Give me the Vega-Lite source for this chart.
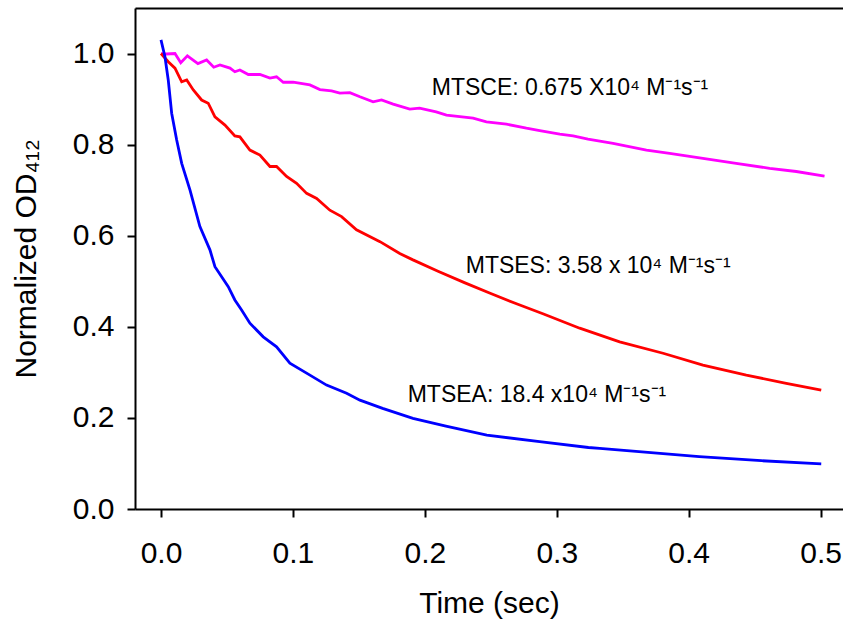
{
  "$schema": "https://vega.github.io/schema/vega-lite/v6.json",
  "width": 708,
  "height": 501,
  "autosize": "none",
  "padding": {"left": 135, "top": 8, "right": 0, "bottom": 111},
  "background": "white",
  "config": {
    "view": {"stroke": null},
    "font": "Liberation Sans",
    "axis": {
      "grid": false,
      "domainColor": "black",
      "domainWidth": 2,
      "tickColor": "black",
      "tickWidth": 2,
      "tickSize": 8,
      "labelFont": "Liberation Sans",
      "labelFontSize": 30,
      "labelColor": "black",
      "titleFont": "Liberation Sans",
      "titleFontSize": 30,
      "titleFontWeight": "normal",
      "titleColor": "black"
    }
  },
  "datasets": {
    "curves": [
      {"series": "MTSCE", "t": 0.0, "v": 1.0},
      {"series": "MTSCE", "t": 0.004, "v": 0.999},
      {"series": "MTSCE", "t": 0.0106, "v": 1.0},
      {"series": "MTSCE", "t": 0.015, "v": 0.98},
      {"series": "MTSCE", "t": 0.02, "v": 0.995},
      {"series": "MTSCE", "t": 0.028, "v": 0.978},
      {"series": "MTSCE", "t": 0.0346, "v": 0.986},
      {"series": "MTSCE", "t": 0.04, "v": 0.97},
      {"series": "MTSCE", "t": 0.0447, "v": 0.975},
      {"series": "MTSCE", "t": 0.0523, "v": 0.968},
      {"series": "MTSCE", "t": 0.056, "v": 0.96},
      {"series": "MTSCE", "t": 0.0598, "v": 0.964},
      {"series": "MTSCE", "t": 0.0662, "v": 0.954},
      {"series": "MTSCE", "t": 0.075, "v": 0.954},
      {"series": "MTSCE", "t": 0.0826, "v": 0.946},
      {"series": "MTSCE", "t": 0.0876, "v": 0.949},
      {"series": "MTSCE", "t": 0.0927, "v": 0.937},
      {"series": "MTSCE", "t": 0.1002, "v": 0.937},
      {"series": "MTSCE", "t": 0.1129, "v": 0.931},
      {"series": "MTSCE", "t": 0.1205, "v": 0.921},
      {"series": "MTSCE", "t": 0.1293, "v": 0.918},
      {"series": "MTSCE", "t": 0.1356, "v": 0.913},
      {"series": "MTSCE", "t": 0.1432, "v": 0.914},
      {"series": "MTSCE", "t": 0.1508, "v": 0.905},
      {"series": "MTSCE", "t": 0.1608, "v": 0.894},
      {"series": "MTSCE", "t": 0.1672, "v": 0.898},
      {"series": "MTSCE", "t": 0.176, "v": 0.889},
      {"series": "MTSCE", "t": 0.1886, "v": 0.878},
      {"series": "MTSCE", "t": 0.196, "v": 0.88},
      {"series": "MTSCE", "t": 0.2086, "v": 0.872},
      {"series": "MTSCE", "t": 0.2164, "v": 0.865},
      {"series": "MTSCE", "t": 0.2366, "v": 0.858},
      {"series": "MTSCE", "t": 0.2467, "v": 0.85},
      {"series": "MTSCE", "t": 0.2619, "v": 0.845},
      {"series": "MTSCE", "t": 0.277, "v": 0.836},
      {"series": "MTSCE", "t": 0.2871, "v": 0.831},
      {"series": "MTSCE", "t": 0.3023, "v": 0.823},
      {"series": "MTSCE", "t": 0.3124, "v": 0.819},
      {"series": "MTSCE", "t": 0.3237, "v": 0.812},
      {"series": "MTSCE", "t": 0.3427, "v": 0.803},
      {"series": "MTSCE", "t": 0.368, "v": 0.788},
      {"series": "MTSCE", "t": 0.3856, "v": 0.781},
      {"series": "MTSCE", "t": 0.4108, "v": 0.77},
      {"series": "MTSCE", "t": 0.436, "v": 0.759},
      {"series": "MTSCE", "t": 0.4614, "v": 0.748},
      {"series": "MTSCE", "t": 0.4816, "v": 0.741},
      {"series": "MTSCE", "t": 0.503, "v": 0.731},
      {"series": "MTSES", "t": 0.0, "v": 1.0},
      {"series": "MTSES", "t": 0.0055, "v": 0.982},
      {"series": "MTSES", "t": 0.0106, "v": 0.968},
      {"series": "MTSES", "t": 0.0157, "v": 0.938},
      {"series": "MTSES", "t": 0.0195, "v": 0.942},
      {"series": "MTSES", "t": 0.0245, "v": 0.92},
      {"series": "MTSES", "t": 0.0308, "v": 0.898},
      {"series": "MTSES", "t": 0.0358, "v": 0.891},
      {"series": "MTSES", "t": 0.0409, "v": 0.861},
      {"series": "MTSES", "t": 0.0485, "v": 0.843},
      {"series": "MTSES", "t": 0.056, "v": 0.819},
      {"series": "MTSES", "t": 0.0598, "v": 0.817},
      {"series": "MTSES", "t": 0.0674, "v": 0.788},
      {"series": "MTSES", "t": 0.075, "v": 0.777},
      {"series": "MTSES", "t": 0.0826, "v": 0.752},
      {"series": "MTSES", "t": 0.0876, "v": 0.752},
      {"series": "MTSES", "t": 0.0952, "v": 0.73},
      {"series": "MTSES", "t": 0.1028, "v": 0.715},
      {"series": "MTSES", "t": 0.1104, "v": 0.693},
      {"series": "MTSES", "t": 0.118, "v": 0.682},
      {"series": "MTSES", "t": 0.128, "v": 0.656},
      {"series": "MTSES", "t": 0.1369, "v": 0.642},
      {"series": "MTSES", "t": 0.1482, "v": 0.613},
      {"series": "MTSES", "t": 0.166, "v": 0.587},
      {"series": "MTSES", "t": 0.181, "v": 0.561},
      {"series": "MTSES", "t": 0.191, "v": 0.547},
      {"series": "MTSES", "t": 0.21, "v": 0.522},
      {"series": "MTSES", "t": 0.23, "v": 0.497},
      {"series": "MTSES", "t": 0.25, "v": 0.473},
      {"series": "MTSES", "t": 0.27, "v": 0.45},
      {"series": "MTSES", "t": 0.29, "v": 0.428},
      {"series": "MTSES", "t": 0.3174, "v": 0.397},
      {"series": "MTSES", "t": 0.3477, "v": 0.367},
      {"series": "MTSES", "t": 0.3806, "v": 0.342},
      {"series": "MTSES", "t": 0.4108, "v": 0.316},
      {"series": "MTSES", "t": 0.4437, "v": 0.294},
      {"series": "MTSES", "t": 0.474, "v": 0.276},
      {"series": "MTSES", "t": 0.5005, "v": 0.261},
      {"series": "MTSEA", "t": 0.0, "v": 1.03},
      {"series": "MTSEA", "t": 0.003, "v": 0.993},
      {"series": "MTSEA", "t": 0.0055, "v": 0.942},
      {"series": "MTSEA", "t": 0.0081, "v": 0.869},
      {"series": "MTSEA", "t": 0.0119, "v": 0.81},
      {"series": "MTSEA", "t": 0.0157, "v": 0.759},
      {"series": "MTSEA", "t": 0.022, "v": 0.7},
      {"series": "MTSEA", "t": 0.0295, "v": 0.62},
      {"series": "MTSEA", "t": 0.0371, "v": 0.569},
      {"series": "MTSEA", "t": 0.0409, "v": 0.532},
      {"series": "MTSEA", "t": 0.051, "v": 0.488},
      {"series": "MTSEA", "t": 0.056, "v": 0.459},
      {"series": "MTSEA", "t": 0.0611, "v": 0.437},
      {"series": "MTSEA", "t": 0.0674, "v": 0.408},
      {"series": "MTSEA", "t": 0.0775, "v": 0.378},
      {"series": "MTSEA", "t": 0.0876, "v": 0.356},
      {"series": "MTSEA", "t": 0.0977, "v": 0.32},
      {"series": "MTSEA", "t": 0.1129, "v": 0.294},
      {"series": "MTSEA", "t": 0.1255, "v": 0.272},
      {"series": "MTSEA", "t": 0.1407, "v": 0.254},
      {"series": "MTSEA", "t": 0.1508, "v": 0.239},
      {"series": "MTSEA", "t": 0.168, "v": 0.221},
      {"series": "MTSEA", "t": 0.191, "v": 0.199},
      {"series": "MTSEA", "t": 0.216, "v": 0.182},
      {"series": "MTSEA", "t": 0.247, "v": 0.162},
      {"series": "MTSEA", "t": 0.287, "v": 0.148},
      {"series": "MTSEA", "t": 0.324, "v": 0.135},
      {"series": "MTSEA", "t": 0.3326, "v": 0.133},
      {"series": "MTSEA", "t": 0.408, "v": 0.115},
      {"series": "MTSEA", "t": 0.455, "v": 0.106},
      {"series": "MTSEA", "t": 0.5005, "v": 0.099}
    ],
    "labels": [
      {"t": 0.2053, "v": 0.909, "label": "MTSCE: 0.675 X10⁴ M⁻¹s⁻¹"},
      {"t": 0.231, "v": 0.518, "label": "MTSES: 3.58 x 10⁴ M⁻¹s⁻¹"},
      {"t": 0.187, "v": 0.235, "label": "MTSEA: 18.4 x10⁴ M⁻¹s⁻¹"}
    ]
  },
  "resolve": {"axis": {"x": "independent"}},
  "layer": [
    {
      "data": {"name": "curves"},
      "mark": {"type": "line", "strokeWidth": 2.8, "interpolate": "linear"},
      "encoding": {
        "x": {
          "field": "t", "type": "quantitative",
          "scale": {"domain": [-0.0197, 0.517], "nice": false, "zero": false},
          "axis": {
            "orient": "bottom",
            "values": [0, 0.1, 0.2, 0.3, 0.4, 0.5],
            "format": ".1f",
            "labelPadding": 21,
            "title": "Time (sec)",
            "titlePadding": 20
          }
        },
        "y": {
          "field": "v", "type": "quantitative",
          "scale": {"domain": [0, 1.1], "nice": false, "zero": false},
          "axis": {
            "orient": "left",
            "values": [0, 0.2, 0.4, 0.6, 0.8, 1.0],
            "format": ".1f",
            "labelPadding": 13,
            "title": "Normalized OD₄₁₂",
            "titlePadding": 31
          }
        },
        "color": {
          "field": "series", "type": "nominal",
          "scale": {"domain": ["MTSCE", "MTSES", "MTSEA"], "range": ["#FF00FF", "#FF0000", "#0000FF"]},
          "legend": null
        },
        "detail": {"field": "series"}
      }
    },
    {
      "data": {"name": "labels"},
      "mark": {"type": "text", "align": "left", "baseline": "alphabetic", "font": "Liberation Sans", "fontSize": 23, "color": "black"},
      "encoding": {
        "x": {
          "field": "t", "type": "quantitative",
          "scale": {"domain": [-0.0197, 0.517], "nice": false, "zero": false},
          "axis": {"orient": "top", "labels": false, "ticks": false, "domain": true, "title": null, "grid": false}
        },
        "y": {
          "field": "v", "type": "quantitative",
          "scale": {"domain": [0, 1.1], "nice": false, "zero": false},
          "axis": {
            "orient": "left",
            "values": [0, 0.2, 0.4, 0.6, 0.8, 1.0],
            "format": ".1f",
            "labelPadding": 13,
            "title": "Normalized OD₄₁₂",
            "titlePadding": 31
          }
        },
        "text": {"field": "label"}
      }
    }
  ]
}
